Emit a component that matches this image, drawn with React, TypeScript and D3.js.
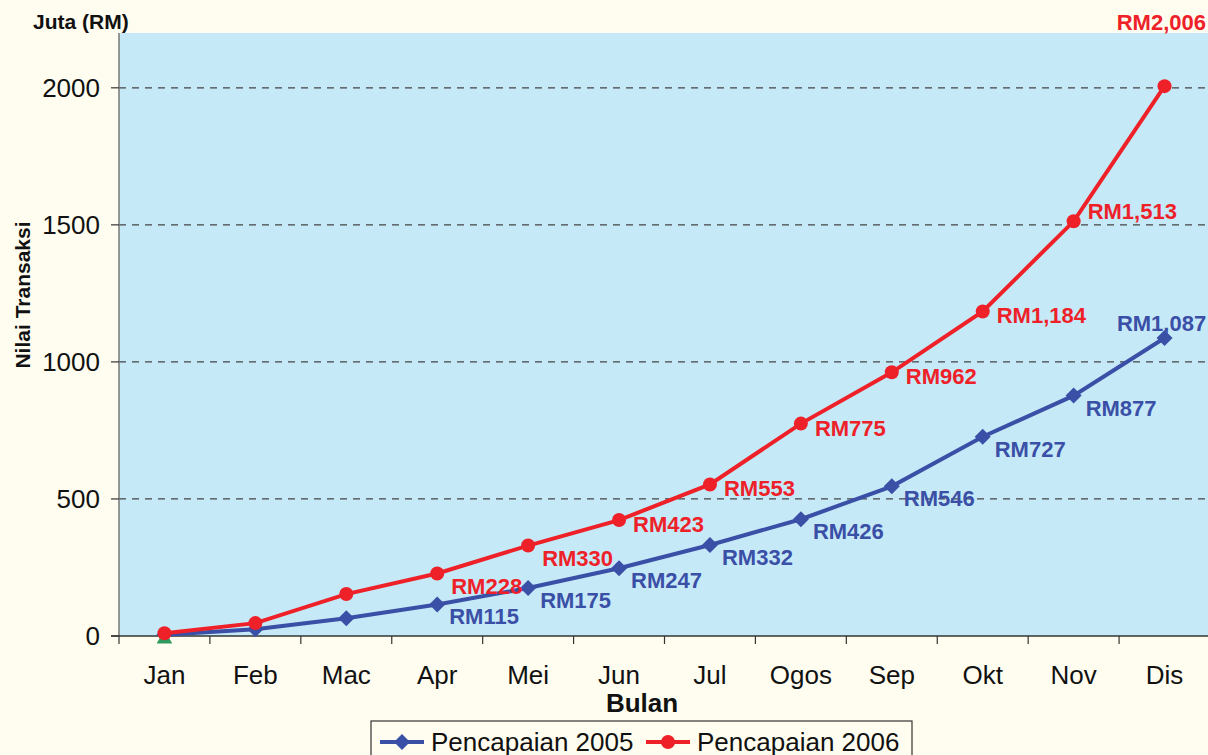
import React from 'react';
import * as d3 from 'd3';

const months = ['Jan', 'Feb', 'Mac', 'Apr', 'Mei', 'Jun', 'Jul', 'Ogos', 'Sep', 'Okt', 'Nov', 'Dis'];
const values2005 = [5, 25, 65, 115, 175, 247, 332, 426, 546, 727, 877, 1087];
const values2006 = [10, 47, 153, 228, 330, 423, 553, 775, 962, 1184, 1513, 2006];
// small green marker shown only at Jan
const startMarker = [{ month: 'Jan', value: 0 }];
const yTicks = [0, 500, 1000, 1500, 2000];

const BLUE = '#3A4FA6';
const RED = '#EE2129';
const GREEN = '#2E9A5E';
const FONT = "'Liberation Sans', Arial, sans-serif";

const fmt = (v: number) => 'RM' + d3.format(',')(v);

export default function App() {
  const width = 1208;
  const height = 755;
  const left = 119;
  const top = 33;
  const bottom = 636;
  const right = 1210;

  const x = d3.scaleBand<string>().domain(months).range([left, right]);
  const y = d3.scaleLinear().domain([0, 2200]).range([bottom, top]);
  const cx = (m: string) => (x(m) as number) + x.bandwidth() / 2;

  const line = d3.line<number>()
    .x((_, i) => cx(months[i]))
    .y(d => y(d));

  // square turned 45 degrees, like the original marker
  const diamond = d3.symbol().type(d3.symbolSquare).size(128)();
  const triangle = d3.symbol().type(d3.symbolTriangle).size(105)();

  const last = months.length - 1;
  const redDy = (i: number) => (i === last - 1 ? -2 : i <= 4 ? 20 : 12);

  return (
    <svg width={width} height={height} style={{ position: 'absolute', left: 0, top: 0, background: '#FFFDEF' }}
      fontFamily={FONT}>
      <rect x={0} y={0} width={width} height={height} fill="#FFFDEF" />
      <rect x={left} y={top} width={right - left} height={bottom - top} fill="#C6E9F8" />

      {/* grid */}
      {yTicks.filter(t => t > 0).map(t => (
        <line key={t} x1={left} x2={right} y1={y(t)} y2={y(t)} stroke="#444" strokeWidth={1.2} strokeDasharray="7,6" />
      ))}

      {/* y axis */}
      <line x1={left} x2={left} y1={top} y2={bottom} stroke="#777" strokeWidth={1.5} />
      {yTicks.map(t => (
        <g key={t}>
          <line x1={left - 8} x2={left} y1={y(t)} y2={y(t)} stroke="#333" strokeWidth={1.2} />
          <text x={left - 19} y={y(t)} dy="0.36em" textAnchor="end" fontSize={26} fill="#111">{t}</text>
        </g>
      ))}

      {/* x axis */}
      <line x1={left - 8} x2={right} y1={bottom} y2={bottom} stroke="#333" strokeWidth={1.5} />
      {months.map(m => (
        <g key={m}>
          <line x1={x(m) as number} x2={x(m) as number} y1={bottom} y2={bottom + 8} stroke="#333" strokeWidth={1.2} />
          <text x={cx(m)} y={684} textAnchor="middle" fontSize={26} fill="#111">{m}</text>
        </g>
      ))}

      {/* axis titles */}
      <text x={33} y={29} fontSize={21} fontWeight="bold" fill="#111">Juta (RM)</text>
      <text transform={`translate(30, 295) rotate(-90)`} textAnchor="middle" fontSize={21} fontWeight="bold" fill="#111">Nilai Transaksi</text>
      <text x={642} y={712} textAnchor="middle" fontSize={26} fontWeight="bold" fill="#111">Bulan</text>

      {/* 2005 series */}
      <path d={line(values2005) as string} fill="none" stroke={BLUE} strokeWidth={4} />
      {values2005.map((v, i) => (
        <path key={i} d={diamond as string} transform={`translate(${cx(months[i])}, ${y(v)}) rotate(45)`} fill={BLUE} />
      ))}

      {/* start marker */}
      {startMarker.map(d => (
        <path key={d.month} d={triangle as string} transform={`translate(${cx(d.month)}, ${y(d.value) + 3})`} fill={GREEN} />
      ))}

      {/* 2006 series */}
      <path d={line(values2006) as string} fill="none" stroke={RED} strokeWidth={4} />
      {values2006.map((v, i) => (
        <circle key={i} cx={cx(months[i])} cy={y(v)} r={7} fill={RED} />
      ))}

      {/* value labels */}
      {values2005.map((v, i) => i >= 3 && (
        i === last
          ? <text key={i} x={cx(months[i]) - 3} y={y(v) - 7} textAnchor="middle" fontSize={22} fontWeight="bold" fill={BLUE}>{fmt(v)}</text>
          : <text key={i} x={cx(months[i]) + 12} y={y(v) + 20} fontSize={22} fontWeight="bold" fill={BLUE}>{fmt(v)}</text>
      ))}
      {values2006.map((v, i) => i >= 3 && (
        i === last
          ? <text key={i} x={width - 2} y={30} textAnchor="end" fontSize={22} fontWeight="bold" fill={RED}>{fmt(v)}</text>
          : <text key={i} x={cx(months[i]) + 14} y={y(v) + redDy(i)} fontSize={22} fontWeight="bold" fill={RED}>{fmt(v)}</text>
      ))}

      {/* legend (cut by the bottom edge, as in the original) */}
      <rect x={371} y={721} width={541} height={50} fill="#FFFDEF" stroke="#333" strokeWidth={1.2} />
      <line x1={380} x2={424} y1={742} y2={742} stroke={BLUE} strokeWidth={4} />
      <path d={diamond as string} transform="translate(402, 742) rotate(45)" fill={BLUE} />
      <text x={431} y={751} fontSize={26} fill="#111">Pencapaian 2005</text>
      <line x1={646} x2={690} y1={742} y2={742} stroke={RED} strokeWidth={4} />
      <circle cx={668} cy={742} r={7} fill={RED} />
      <text x={697} y={751} fontSize={26} fill="#111">Pencapaian 2006</text>
    </svg>
  );
}
